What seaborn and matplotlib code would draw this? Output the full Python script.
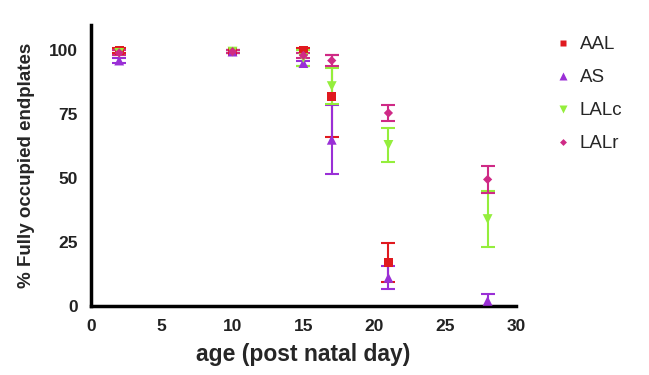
import numpy as np
import pandas as pd
import matplotlib
matplotlib.use("Agg")
import matplotlib.pyplot as plt
import seaborn as sns

days = [2, 10, 15, 17, 21, 28]
groups = ["AAL", "AS", "LALc", "LALr"]
aal = [100, 99.5, 100, 82, 17, np.nan]
aal_err = [1, 0.5, 1, 16, 7.5, np.nan]
as_ = [96, 99.5, 95, 65, 11, 2]
as_err = [1, 0.5, 1, 13.5, 4.5, 2.5]
lalc = [99, 99.5, 97, 86, 63, 34]
lalc_err = [1, 0.5, 3, 7, 6.8, 11]
lalr = [99, 99.5, 98, 96, 75.5, 49.5]
lalr_err = [1, 0.5, 1, 2, 3.2, 5.2]

colors = {"AAL": "#e0191f", "AS": "#9a2fd6", "LALc": "#94ee3c", "LALr": "#cf2a86"}
markers = {"AAL": "s", "AS": "^", "LALc": "v", "LALr": "D"}
sizes = {"AAL": 45, "AS": 50, "LALc": 50, "LALr": 22}

vals = {"AAL": (aal, aal_err), "AS": (as_, as_err), "LALc": (lalc, lalc_err), "LALr": (lalr, lalr_err)}
rows = []
for g in groups:
    for d, v, e in zip(days, vals[g][0], vals[g][1]):
        rows.append({"day": d, "pct": v, "err": e, "group": g})
df = pd.DataFrame(rows).dropna()

sns.set_style("white")
plt.rcParams['font.family'] = ['Liberation Sans', 'DejaVu Sans']

fig = plt.figure(figsize=(6.49, 3.75), dpi=100)
ax = fig.add_axes([0.14, 0.184, 0.655, 0.75])

# error bars first, markers on top
for g in groups:
    sub = df[df["group"] == g]
    ax.errorbar(sub["day"], sub["pct"], yerr=sub["err"], fmt="none",
                ecolor=colors[g], elinewidth=1.5, capsize=5, capthick=1.5, zorder=2)

sns.scatterplot(data=df, x="day", y="pct", hue="group", style="group", size="group",
                palette=colors, markers=markers, sizes=sizes,
                hue_order=groups, style_order=groups, size_order=groups,
                edgecolor="none", ax=ax, zorder=3, legend=True)

ax.set_xlim(0, 30)
ax.set_ylim(0, 110)
ax.set_xticks([0, 5, 10, 15, 20, 25, 30])
ax.set_yticks([0, 25, 50, 75, 100])
ax.set_xlabel("age (post natal day)", fontsize=16.5, fontweight="bold", labelpad=6)
ax.set_ylabel("% Fully occupied endplates", fontsize=13.5, fontweight="bold", labelpad=10)
ax.tick_params(axis="both", direction="out", length=6, width=2.5, labelsize=12.5, colors="black")
for lbl in ax.get_xticklabels() + ax.get_yticklabels():
    lbl.set_fontweight("bold")
    lbl.set_color("#222222")
for s in ["top", "right"]:
    ax.spines[s].set_visible(False)
for s in ["left", "bottom"]:
    ax.spines[s].set_linewidth(2.5)
    ax.spines[s].set_color("black")
    ax.spines[s].set_clip_on(False)

leg = ax.legend(loc="upper left", bbox_to_anchor=(1.035, 1.02), frameon=False,
                fontsize=13.5, handletextpad=0.1, handlelength=1.6, labelspacing=0.85,
                markerscale=0.75)

fig.savefig("out.png", dpi=100, facecolor="white")
